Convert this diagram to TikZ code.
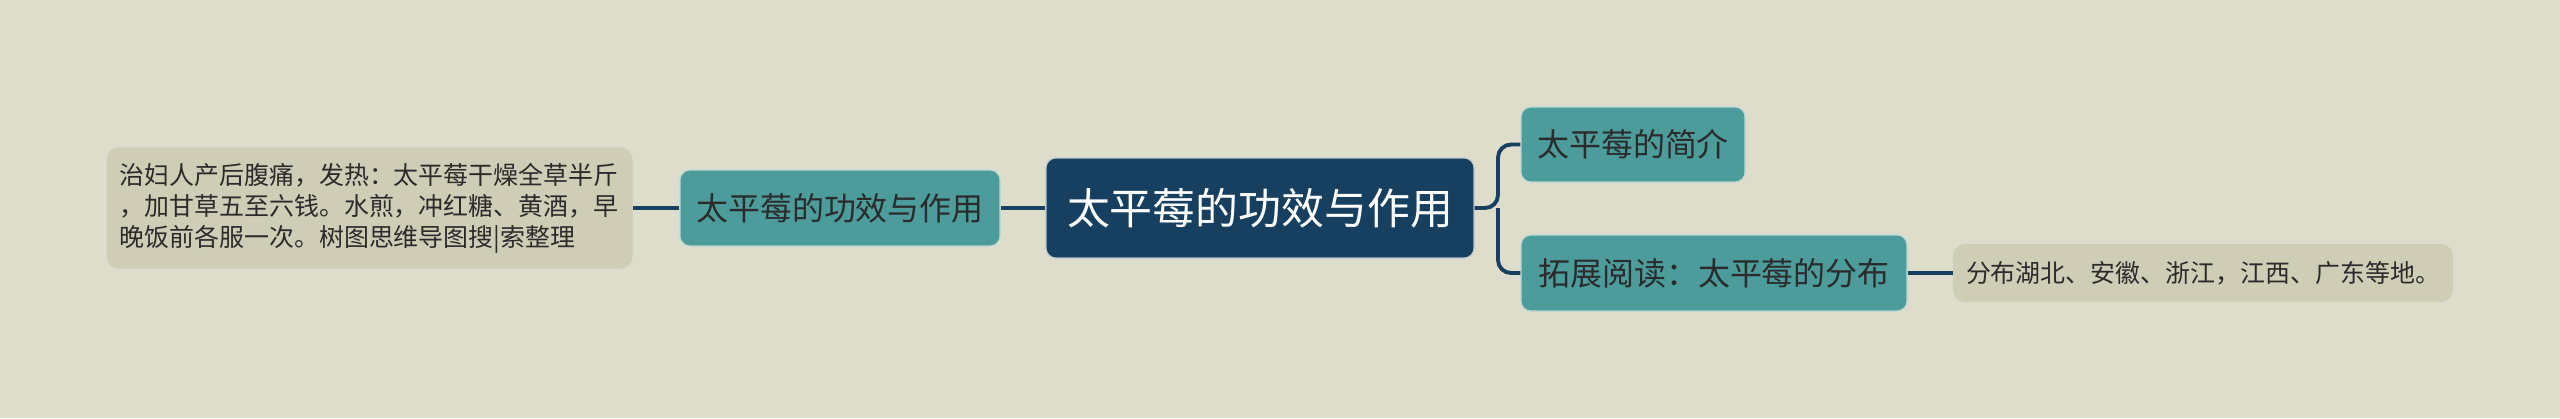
\documentclass[tikz,border=0pt]{standalone}
\usepackage{fontspec}
\setmainfont{Noto Sans CJK SC}
\definecolor{bgcol}{HTML}{DEDCCB}
\definecolor{rootcol}{HTML}{173F5F}
\definecolor{branchcol}{HTML}{4D9C9C}
\definecolor{leafcol}{HTML}{CFCDB6}
\definecolor{textcol}{HTML}{2B2B2B}
\begin{document}
\begin{tikzpicture}[
            root/.style={rectangle,draw=white!70!rootcol,line width=0.6pt,fill=rootcol,rounded corners=0.2cm,minimum width=8.56cm,minimum height=2cm,text=white,font=\fontsize{24.4pt}{28pt}\selectfont},
            branch/.style={rectangle,draw=white!60!branchcol,line width=0.6pt,fill=branchcol,rounded corners=0.2cm,minimum height=1.52cm,text=textcol,font=\fontsize{18.2pt}{22pt}\selectfont},
            leaf/.style={rectangle,fill=leafcol,rounded corners=0.24cm,inner xsep=0.26cm,align=left,text=textcol,font=\fontsize{14.2pt}{17.6pt}\selectfont},
            link/.style={draw=rootcol,line width=2.2pt,rounded corners=0.26cm}
        ]
            \useasboundingbox[fill=bgcol] (0,0) rectangle (51.2,8.36);

            \node[root] (root) at (25.2,4.2) {太平莓的功效与作用};
            \node[branch,minimum width=6.4cm,left of=root,node distance=8.4cm] (effect) {太平莓的功效与作用};
            \node[leaf,text width=10cm,minimum height=2.42cm,left of=effect,node distance=9.41cm] (recipe) {治妇人产后腹痛，发热：太平莓干燥全草半斤\\，加甘草五至六钱。水煎，冲红糖、黄酒，早\\晚饭前各服一次。树图思维导图搜|索整理};
            \node[branch,minimum width=4.48cm,minimum height=1.5cm,right of=root,node distance=7.46cm,yshift=1.27cm] (intro) {太平莓的简介};
            \node[branch,minimum width=7.72cm,right of=root,node distance=9.08cm,yshift=-1.3cm] (spread) {拓展阅读：太平莓的分布};
            \node[leaf,text width=9.48cm,minimum height=1.16cm,right of=spread,node distance=9.78cm] (place) {分布湖北、安徽、浙江，江西、广东等地。};

            \coordinate (fork) at (29.96,4.2);

            \draw[link] (root) -- (effect);
            \draw[link] (effect) -- (recipe);
            \draw[link] (root.east) -- (fork) |- (intro.west);
            \draw[link] (fork) |- (spread.west);
            \draw[link] (spread) -- (place);
        \end{tikzpicture}
\end{document}
